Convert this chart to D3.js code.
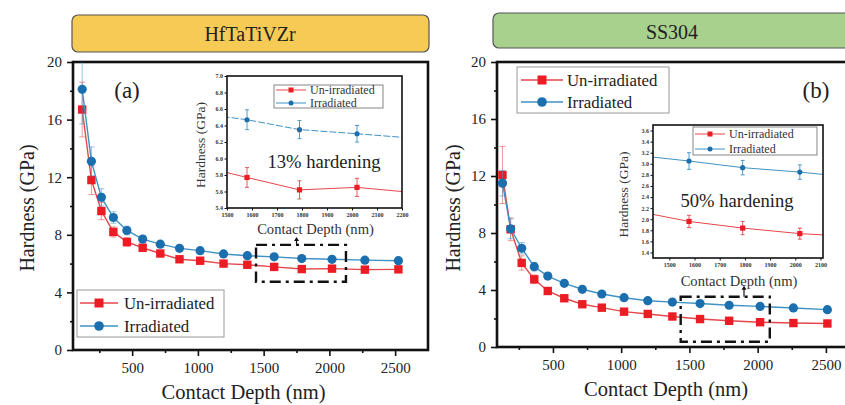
<!DOCTYPE html>
<html>
<head>
<meta charset="utf-8">
<script src="https://cdn.jsdelivr.net/npm/d3@7"></script>
<style>
  body { margin: 0; background: #fff; }
  svg text { font-family: "Liberation Serif", Tinos, "DejaVu Serif", serif; }
</style>
</head>
<body>
<svg id="chart" width="845" height="405"></svg>
<script>
// ---- data ----
const panelTitles = ["HfTaTiVZr", "SS304"];
const seriesNames = ["Un-irradiated", "Irradiated"];
const hardeningLabels = ["13% hardening", "50% hardening"];
const xTicks = [500, 1000, 1500, 2000, 2500];
const yTicks = [0, 4, 8, 12, 16, 20];

// (a) HfTaTiVZr
const depthA = [120, 190, 266, 357, 460, 580, 714, 860, 1017, 1195, 1376, 1580, 1790, 2020, 2270, 2525];
const unirrA = [16.7, 11.8, 9.65, 8.2, 7.5, 7.1, 6.7, 6.3, 6.2, 6.0, 5.92, 5.77, 5.62, 5.65, 5.58, 5.6];
const irrA   = [18.1, 13.1, 10.6, 9.2, 8.3, 7.7, 7.35, 7.06, 6.9, 6.67, 6.55, 6.47, 6.35, 6.3, 6.24, 6.2];
const unirrErrA = [1.9, 1.0, 0.6, 0.35, 0.3, 0.25, 0.2, 0.2, 0.15, 0.15, 0.12, 0.12, 0.11, 0.11, 0.1, 0.1];
const irrErrA   = [2.4, 1.0, 0.6, 0.4, 0.3, 0.25, 0.2, 0.15, 0.15, 0.13, 0.13, 0.12, 0.11, 0.1, 0.1, 0.1];
const insetXTicksA = [1500, 1600, 1700, 1800, 1900, 2000, 2100, 2200];
const insetYTicksA = [5.4, 5.6, 5.8, 6.0, 6.2, 6.4, 6.6, 6.8, 7.0];

// (b) SS304
const depthB = [130, 190, 271, 363, 462, 583, 715, 858, 1021, 1195, 1375, 1578, 1791, 2018, 2262, 2511];
const unirrB = [12.07, 8.26, 5.9, 4.75, 3.93, 3.42, 3.0, 2.76, 2.48, 2.32, 2.14, 1.96, 1.84, 1.74, 1.68, 1.65];
const irrB   = [11.5, 8.3, 6.93, 5.64, 4.98, 4.47, 4.05, 3.72, 3.46, 3.25, 3.15, 3.05, 2.93, 2.85, 2.74, 2.62];
const unirrErrB = [2.0, 0.8, 0.5, 0.3, 0.2, 0.15, 0.15, 0.12, 0.12, 0.11, 0.11, 0.11, 0.12, 0.1, 0.1, 0.1];
const irrErrB   = [0.9, 0.7, 0.4, 0.3, 0.2, 0.15, 0.15, 0.13, 0.13, 0.13, 0.14, 0.15, 0.13, 0.13, 0.12, 0.12];
const insetXTicksB = [1500, 1600, 1700, 1800, 1900, 2000, 2100];
const insetYTicksB = [1.4, 1.6, 1.8, 2.0, 2.2, 2.4, 2.6, 2.8, 3.0, 3.2, 3.4, 3.6];

// ---- styles ----
const serif = "Liberation Serif, Tinos, DejaVu Serif, serif";
const red = "#ec1c24", redLine = "#e4474b";
const blue = "#1b6fae", blueLine = "#3f93c4";

const svg = d3.select("#chart");

const panels = [
  {
    title: panelTitles[0], fill: "#f5cb55", box: [72, 15, 357, 37], titleX: 250, titleY: 41,
    tag: "(a)", tagX: 127, tagY: 98,
    x: d3.scaleLinear().domain([50, 2750]).range([73, 428]),
    y: d3.scaleLinear().domain([0, 20]).range([350, 62]),
    depth: depthA, unirr: unirrA, irr: irrA, unirrErr: unirrErrA, irrErr: irrErrA,
    yLabelX: 27, xLabelY: 399,
    legend: { x: 77, y: 290, w: 147, h: 47, rows: [303, 326], lx0: 80, lx1: 118, tx: 124 },
    zoomBox: [1442, 2126, 4.74, 7.3], arrow: [1750, 7.3, 7.85],
    inset: {
      x: d3.scaleLinear().domain([1500, 2200]).range([227, 402]),
      y: d3.scaleLinear().domain([5.4, 7.0]).range([208, 76]),
      xTicks: insetXTicksA, yTicks: insetYTicksA, blueDash: "7,2",
      yLabelX: 200, xLabelY: 234,
      legend: { x: 274, y: 85, w: 109, h: 23, rows: [90, 103], lx0: 276, lx1: 306, tx: 310 },
      text: hardeningLabels[0], textX: 324, textY: 168
    }
  },
  {
    title: panelTitles[1], fill: "#a9d18e", box: [493, 13, 360, 35], titleX: 672, titleY: 39,
    tag: "(b)", tagX: 816, tagY: 98,
    x: d3.scaleLinear().domain([90, 2750]).range([497, 860]),
    y: d3.scaleLinear().domain([0, 20]).range([347, 62]),
    depth: depthB, unirr: unirrB, irr: irrB, unirrErr: unirrErrB, irrErr: irrErrB,
    yLabelX: 453, xLabelY: 396,
    legend: { x: 517, y: 67, w: 152, h: 46, rows: [80, 102], lx0: 521, lx1: 563, tx: 567 },
    zoomBox: [1436, 2089, 0.37, 3.53], arrow: [1900, 3.53, 4.3],
    inset: {
      x: d3.scaleLinear().domain([1435, 2110]).range([653, 823]),
      y: d3.scaleLinear().domain([1.3, 3.7]).range([258, 125]),
      xTicks: insetXTicksB, yTicks: insetYTicksB, blueDash: null,
      yLabelX: 623, xLabelY: 286,
      legend: { x: 693, y: 127, w: 124, h: 28, rows: [134, 149], lx0: 695, lx1: 725, tx: 729 },
      text: hardeningLabels[1], textX: 737, textY: 207
    }
  }
];

panels.forEach((p, pi) => {
  const g = svg.append("g");
  const x = p.x, y = p.y;
  const [x0, x1] = x.range();
  const [y0, y1] = y.range();

  // title banner
  g.append("rect")
    .attr("x", p.box[0]).attr("y", p.box[1])
    .attr("width", p.box[2]).attr("height", p.box[3])
    .attr("rx", 6)
    .attr("fill", p.fill).attr("stroke", "#555").attr("stroke-width", 1.2);
  g.append("text")
    .attr("x", p.titleX).attr("y", p.titleY)
    .attr("text-anchor", "middle")
    .attr("font-family", serif)
    .attr("font-size", 20)
    .attr("fill", "#222")
    .text(p.title);

  // clip for plot area
  const clipId = "clip" + pi;
  svg.append("clipPath").attr("id", clipId)
    .append("rect").attr("x", x0).attr("y", y1).attr("width", x1 - x0).attr("height", y0 - y1);

  // axes
  g.append("g")
    .attr("transform", `translate(0,${y0})`)
    .call(d3.axisBottom(x).tickValues(xTicks).tickSize(6).tickPadding(6).tickFormat(d3.format("d")).tickSizeOuter(0));
  g.append("g")
    .attr("transform", `translate(0,${y0})`)
    .call(d3.axisBottom(x).tickValues([250, 750, 1250, 1750, 2250]).tickSize(3).tickFormat("").tickSizeOuter(0));
  g.append("g")
    .attr("transform", `translate(${x0},0)`)
    .call(d3.axisLeft(y).tickValues(yTicks).tickSize(6).tickPadding(5).tickSizeOuter(0));
  g.append("g")
    .attr("transform", `translate(${x0},0)`)
    .call(d3.axisLeft(y).tickValues([2, 6, 10, 14, 18]).tickSize(3).tickFormat("").tickSizeOuter(0));
  g.selectAll(".domain").remove();
  g.selectAll("g").attr("font-family", serif);
  g.selectAll(".tick line").attr("stroke", "#111").attr("stroke-width", 1.6);
  g.selectAll(".tick text").attr("font-size", 15).attr("font-family", serif).attr("fill", "#222");

  // frame
  g.append("rect")
    .attr("x", x0).attr("y", y1).attr("width", x1 - x0).attr("height", y0 - y1)
    .attr("fill", "none").attr("stroke", "#111").attr("stroke-width", 2.6);

  // axis titles
  g.append("text")
    .attr("transform", `translate(${p.yLabelX},208) rotate(-90)`)
    .attr("text-anchor", "middle").attr("dominant-baseline", "central")
    .attr("font-family", serif)
    .attr("font-size", 20).attr("fill", "#222")
    .text("Hardness (GPa)");
  g.append("text")
    .attr("x", (x0 + Math.min(x1, 845)) / 2 + (pi === 0 ? -7 : -5)).attr("y", p.xLabelY)
    .attr("text-anchor", "middle")
    .attr("font-family", serif)
    .attr("font-size", 20.5).attr("fill", "#222")
    .text("Contact Depth (nm)");

  // series
  const plot = g.append("g").attr("clip-path", `url(#${clipId})`);
  const series = [
    { vals: p.unirr, err: p.unirrErr, color: red, line: redLine, shape: "square" },
    { vals: p.irr, err: p.irrErr, color: blue, line: blueLine, shape: "circle" }
  ];
  series.forEach(s => {
    const pts = p.depth.map((d, i) => ({ d, v: s.vals[i], e: s.err[i] }));
    // error bars
    const eb = plot.append("g").attr("stroke", s.line).attr("stroke-opacity", 0.55).attr("stroke-width", 1);
    eb.selectAll("line.v").data(pts).join("line")
      .attr("x1", d => x(d.d)).attr("x2", d => x(d.d))
      .attr("y1", d => y(d.v - d.e)).attr("y2", d => y(d.v + d.e));
    eb.selectAll("line.t").data(pts).join("line")
      .attr("x1", d => x(d.d) - 3).attr("x2", d => x(d.d) + 3)
      .attr("y1", d => y(d.v + d.e)).attr("y2", d => y(d.v + d.e));
    eb.selectAll("line.b").data(pts).join("line")
      .attr("x1", d => x(d.d) - 3).attr("x2", d => x(d.d) + 3)
      .attr("y1", d => y(d.v - d.e)).attr("y2", d => y(d.v - d.e));
    plot.append("path")
      .datum(pts)
      .attr("fill", "none").attr("stroke", s.line).attr("stroke-width", 1.4)
      .attr("d", d3.line().x(d => x(d.d)).y(d => y(d.v)));
    if (s.shape === "square") {
      plot.selectAll(null).data(pts).join("rect")
        .attr("x", d => x(d.d) - 4.2).attr("y", d => y(d.v) - 4.2)
        .attr("width", 8.4).attr("height", 8.4).attr("fill", s.color);
    } else {
      plot.selectAll(null).data(pts).join("circle")
        .attr("cx", d => x(d.d)).attr("cy", d => y(d.v)).attr("r", 4.6).attr("fill", s.color);
    }
  });

  // panel tag
  g.append("text")
    .attr("x", p.tagX).attr("y", p.tagY).attr("text-anchor", "middle")
    .attr("font-family", serif)
    .attr("font-size", 23).attr("fill", "#222").text(p.tag);

  // main legend
  const L = p.legend;
  g.append("rect").attr("x", L.x).attr("y", L.y).attr("width", L.w).attr("height", L.h)
    .attr("fill", "#fff").attr("stroke", "#999").attr("stroke-width", 1);
  series.forEach((s, i) => {
    const ly = L.rows[i];
    g.append("line").attr("x1", L.lx0).attr("x2", L.lx1).attr("y1", ly).attr("y2", ly)
      .attr("stroke", s.line).attr("stroke-width", 1.6);
    const mx = (L.lx0 + L.lx1) / 2;
    if (s.shape === "square") {
      g.append("rect").attr("x", mx - 4.5).attr("y", ly - 4.5).attr("width", 9).attr("height", 9).attr("fill", s.color);
    } else {
      g.append("circle").attr("cx", mx).attr("cy", ly).attr("r", 4.8).attr("fill", s.color);
    }
    g.append("text").attr("x", L.tx).attr("y", ly).attr("dominant-baseline", "central")
      .attr("font-family", serif)
      .attr("font-size", 16.8).attr("fill", "#222").text(seriesNames[i]);
  });

  // dash-dot zoom box
  const zb = p.zoomBox;
  g.append("rect")
    .attr("x", x(zb[0])).attr("y", y(zb[3]))
    .attr("width", x(zb[1]) - x(zb[0])).attr("height", y(zb[2]) - y(zb[3]))
    .attr("fill", "none").attr("stroke", "#111").attr("stroke-width", 2.4)
    .attr("stroke-dasharray", "11,5,3,5");
  const ar = p.arrow;
  g.append("line")
    .attr("x1", x(ar[0])).attr("x2", x(ar[0]))
    .attr("y1", y(ar[1])).attr("y2", y(ar[2]) + 3)
    .attr("stroke", "#111").attr("stroke-width", 1.2);
  g.append("path")
    .attr("d", `M${x(ar[0]) - 2.5},${y(ar[2]) + 4}L${x(ar[0])},${y(ar[2])}L${x(ar[0]) + 2.5},${y(ar[2]) + 4}Z`)
    .attr("fill", "#111");

  // ---- inset ----
  const ins = p.inset;
  const ix = ins.x, iy = ins.y;
  const [ix0, ix1] = ix.range();
  const [iy0, iy1] = iy.range();
  const ig = g.append("g");
  ig.append("rect").attr("x", ix0).attr("y", iy1).attr("width", ix1 - ix0).attr("height", iy0 - iy1)
    .attr("fill", "#fff");
  const iClip = "iclip" + pi;
  svg.append("clipPath").attr("id", iClip)
    .append("rect").attr("x", ix0).attr("y", iy1).attr("width", ix1 - ix0).attr("height", iy0 - iy1);

  ig.append("g").attr("transform", `translate(0,${iy0})`)
    .call(d3.axisBottom(ix).tickValues(ins.xTicks).tickSize(2.5).tickPadding(2).tickFormat(d3.format("d")).tickSizeOuter(0));
  ig.append("g").attr("transform", `translate(${ix0},0)`)
    .call(d3.axisLeft(iy).tickValues(ins.yTicks).tickSize(2.5).tickPadding(1.5).tickFormat(d3.format(".1f")).tickSizeOuter(0));
  ig.selectAll(".domain").remove();
  ig.selectAll(".tick line").attr("stroke", "#111").attr("stroke-width", 1);
  ig.selectAll(".tick text").attr("font-size", 6).attr("font-weight", "bold")
    .attr("font-family", serif).attr("fill", "#333");

  const iplot = ig.append("g").attr("clip-path", `url(#${iClip})`);
  series.forEach((s, si) => {
    const pts = p.depth.map((d, i) => ({ d, v: s.vals[i], e: s.err[i] }));
    const inside = pts.filter(d => d.d >= ix.domain()[0] && d.d <= ix.domain()[1]);
    iplot.append("path").datum(pts)
      .attr("fill", "none").attr("stroke", s.line).attr("stroke-width", 1)
      .attr("stroke-dasharray", si === 1 ? ins.blueDash : null)
      .attr("d", d3.line().x(d => ix(d.d)).y(d => iy(d.v)));
    const eb = iplot.append("g").attr("stroke", s.line).attr("stroke-width", 0.9);
    eb.selectAll("line.v").data(inside).join("line")
      .attr("x1", d => ix(d.d)).attr("x2", d => ix(d.d))
      .attr("y1", d => iy(d.v - d.e)).attr("y2", d => iy(d.v + d.e));
    eb.selectAll("line.t").data(inside).join("line")
      .attr("x1", d => ix(d.d) - 2).attr("x2", d => ix(d.d) + 2)
      .attr("y1", d => iy(d.v + d.e)).attr("y2", d => iy(d.v + d.e));
    eb.selectAll("line.b").data(inside).join("line")
      .attr("x1", d => ix(d.d) - 2).attr("x2", d => ix(d.d) + 2)
      .attr("y1", d => iy(d.v - d.e)).attr("y2", d => iy(d.v - d.e));
    if (s.shape === "square") {
      iplot.selectAll(null).data(inside).join("rect")
        .attr("x", d => ix(d.d) - 2.6).attr("y", d => iy(d.v) - 2.6)
        .attr("width", 5.2).attr("height", 5.2).attr("fill", s.color);
    } else {
      iplot.selectAll(null).data(inside).join("circle")
        .attr("cx", d => ix(d.d)).attr("cy", d => iy(d.v)).attr("r", 2.6).attr("fill", s.color);
    }
  });

  ig.append("rect").attr("x", ix0).attr("y", iy1).attr("width", ix1 - ix0).attr("height", iy0 - iy1)
    .attr("fill", "none").attr("stroke", "#111").attr("stroke-width", 1.6);

  // inset legend
  const IL = ins.legend;
  ig.append("rect").attr("x", IL.x).attr("y", IL.y).attr("width", IL.w).attr("height", IL.h)
    .attr("fill", "#fff").attr("stroke", "#666").attr("stroke-width", 0.8);
  series.forEach((s, i) => {
    const ly = IL.rows[i];
    ig.append("line").attr("x1", IL.lx0).attr("x2", IL.lx1).attr("y1", ly).attr("y2", ly)
      .attr("stroke", s.line).attr("stroke-width", 1);
    const mx = (IL.lx0 + IL.lx1) / 2;
    if (s.shape === "square") {
      ig.append("rect").attr("x", mx - 2.5).attr("y", ly - 2.5).attr("width", 5).attr("height", 5).attr("fill", s.color);
    } else {
      ig.append("circle").attr("cx", mx).attr("cy", ly).attr("r", 2.5).attr("fill", s.color);
    }
    ig.append("text").attr("x", IL.tx).attr("y", ly).attr("dominant-baseline", "central")
      .attr("font-family", serif)
      .attr("font-size", 12).attr("fill", "#333").text(seriesNames[i]);
  });

  ig.append("text")
    .attr("transform", `translate(${ins.yLabelX},${(iy0 + iy1) / 2 + 3}) rotate(-90)`)
    .attr("text-anchor", "middle").attr("dominant-baseline", "central")
    .attr("font-family", serif)
    .attr("font-size", 13.5).attr("fill", "#333").text("Hardness (GPa)");
  ig.append("text")
    .attr("x", (ix0 + ix1) / 2 + 1).attr("y", ins.xLabelY)
    .attr("text-anchor", "middle")
    .attr("font-family", serif)
    .attr("font-size", 14.6).attr("fill", "#333").text("Contact Depth (nm)");
  ig.append("text")
    .attr("x", ins.textX).attr("y", ins.textY).attr("text-anchor", "middle")
    .attr("font-family", serif)
    .attr("font-size", 18.6).attr("fill", "#222").text(ins.text);
});
</script>
</body>
</html>
